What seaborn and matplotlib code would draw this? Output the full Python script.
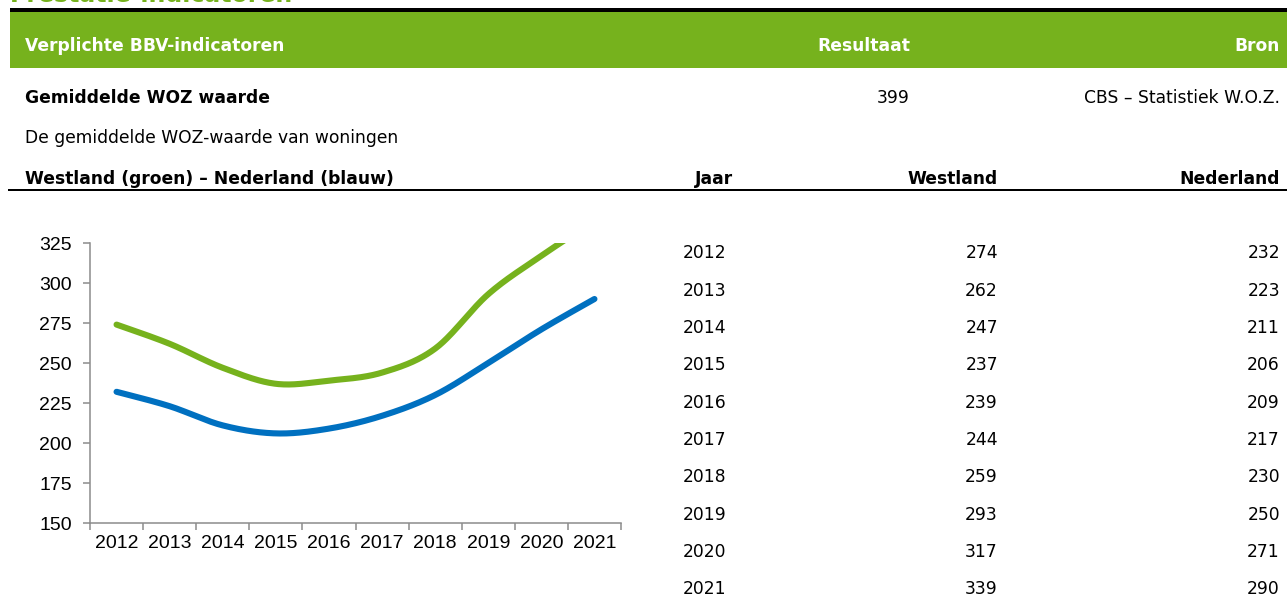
import numpy as np
import pandas as pd
import matplotlib
matplotlib.use("Agg")
import matplotlib.pyplot as plt
from matplotlib.patches import Rectangle
import seaborn as sns

# ---- data ----
years = [2012, 2013, 2014, 2015, 2016, 2017, 2018, 2019, 2020, 2021]
westland = [274, 262, 247, 237, 239, 244, 259, 293, 317, 339]
nederland = [232, 223, 211, 206, 209, 217, 230, 250, 271, 290]
y_ticks = [150, 175, 200, 225, 250, 275, 300, 325]

GREEN = "#76B21D"
BLUE = "#0070C0"
AXIS_GREY = "#8C8C8C"

sns.set_theme(style="white")
plt.rcParams["font.family"] = ["Liberation Sans", "DejaVu Sans"]

W, H = 1287, 594
fig = plt.figure(figsize=(W / 100, H / 100), dpi=100)
fig.patch.set_facecolor("white")

TXT_FAMILY = ["DejaVu Sans"]


def fx(x):
    return x / W


def fy(y):
    return 1 - y / H


def ft(x, y, s, **kw):
    kw.setdefault("va", "baseline")
    kw.setdefault("fontsize", 12.3)
    kw.setdefault("family", TXT_FAMILY)
    return fig.text(fx(x), fy(y), s, **kw)


def frect(x0, y0, x1, y1, color):
    fig.add_artist(Rectangle((fx(x0), fy(y1)), fx(x1) - fx(x0), fy(y0) - fy(y1),
                             transform=fig.transFigure, facecolor=color,
                             edgecolor="none", zorder=0))


# ---- page furniture ----
ft(10, 2, "Prestatie-indicatoren", color=GREEN, fontweight="bold", fontsize=17)
frect(10, 8, W, 11.5, "black")
frect(10, 12, W, 68, GREEN)
ft(25, 51, "Verplichte BBV-indicatoren", color="white", fontweight="bold")
ft(910, 51, "Resultaat", color="white", fontweight="bold", ha="right")
ft(1280, 51, "Bron", color="white", fontweight="bold", ha="right")

ft(25, 103, "Gemiddelde WOZ waarde", color="black", fontweight="bold")
ft(910, 103, "399", color="black", ha="right")
ft(1280, 103, "CBS – Statistiek W.O.Z.", color="black", ha="right")

ft(25, 143, "De gemiddelde WOZ-waarde van woningen", color="black")

ft(25, 184, "Westland (groen) – Nederland (blauw)", color="black", fontweight="bold")
ft(733, 184, "Jaar", color="black", fontweight="bold", ha="right")
ft(998, 184, "Westland", color="black", fontweight="bold", ha="right")
ft(1280, 184, "Nederland", color="black", fontweight="bold", ha="right")
frect(8, 189, W, 191, "black")

# ---- table ----
for i, (yr, w, n) in enumerate(zip(years, westland, nederland)):
    yb = 258.5 + 37.3 * i
    ft(705, yb, str(yr), color="black", ha="center")
    ft(998, yb, str(w), color="black", ha="right")
    ft(1280, yb, str(n), color="black", ha="right")


# ---- chart ----
def smooth(x, y, n=40):
    pts = np.column_stack([x, y]).astype(float)
    out = []
    m = len(pts)
    for i in range(m - 1):
        p0 = pts[i - 1] if i > 0 else pts[i]
        p1 = pts[i]
        p2 = pts[i + 1]
        p3 = pts[i + 2] if i + 2 < m else pts[i + 1]
        c1 = p1 + (p2 - p0) / 6
        c2 = p2 - (p3 - p1) / 6
        t = np.linspace(0, 1, n, endpoint=(i == m - 2))[:, None]
        b = (1 - t) ** 3 * p1 + 3 * (1 - t) ** 2 * t * c1 + 3 * (1 - t) * t ** 2 * c2 + t ** 3 * p2
        out.append(b)
    s = np.vstack(out)
    return s[:, 0], s[:, 1]


ax = fig.add_axes([fx(90), fy(523), fx(621) - fx(90), fy(243) - fy(523)])
xpos = np.arange(len(years))

sx, sy = smooth(xpos, westland)
sns.lineplot(x=sx, y=sy, ax=ax, color=GREEN, linewidth=4.4, sort=False,
             estimator=None, solid_capstyle="round")
sx, sy = smooth(xpos, nederland)
sns.lineplot(x=sx, y=sy, ax=ax, color=BLUE, linewidth=4.4, sort=False,
             estimator=None, solid_capstyle="round")

ax.set_xlim(-0.5, len(years) - 0.5)
ax.set_ylim(150, 325)
ax.set_yticks(y_ticks)
ax.set_yticklabels([str(v) for v in y_ticks])
ax.set_xticks(np.arange(-0.5, len(years), 1.0))
ax.set_xticklabels([])
ax.set_xticks(xpos, minor=True)
ax.set_xticklabels([str(y) for y in years], minor=True)
ax.tick_params(axis="x", which="major", length=5, width=1.1, color=AXIS_GREY,
               direction="out", bottom=True)
ax.tick_params(axis="x", which="minor", length=0, pad=9, bottom=True,
               labelsize=14, labelcolor="black")
ax.tick_params(axis="y", length=5, width=1.1, color=AXIS_GREY, direction="out",
               pad=8, left=True, labelsize=14, labelcolor="black")
for lbl in ax.get_yticklabels() + ax.get_xticklabels(minor=True):
    lbl.set_fontfamily(["Liberation Sans"])
for side in ["top", "right"]:
    ax.spines[side].set_visible(False)
for side in ["left", "bottom"]:
    ax.spines[side].set_color(AXIS_GREY)
    ax.spines[side].set_linewidth(1.1)
ax.set_xlabel("")
ax.set_ylabel("")
ax.grid(False)
ax.set_facecolor("none")

fig.savefig("out.png", dpi=100)
